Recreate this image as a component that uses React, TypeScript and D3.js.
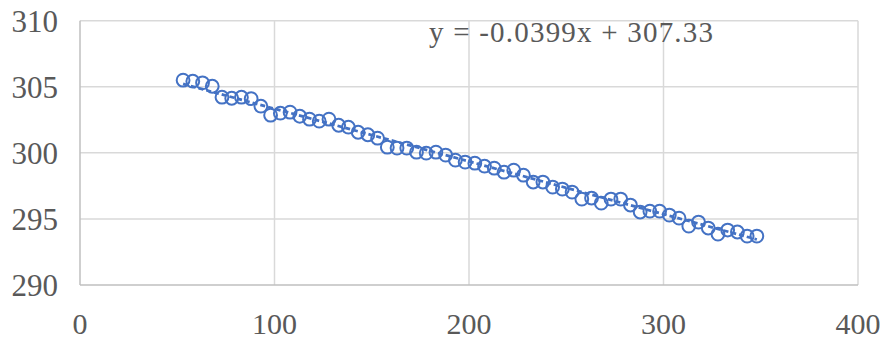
import React, { useEffect, useRef } from 'react';
import * as d3 from 'd3';

// x values run 53..348 in steps of 5
const xValues: number[] = [
  53, 58, 63, 68, 73, 78, 83, 88, 93, 98,
  103, 108, 113, 118, 123, 128, 133, 138, 143, 148,
  153, 158, 163, 168, 173, 178, 183, 188, 193, 198,
  203, 208, 213, 218, 223, 228, 233, 238, 243, 248,
  253, 258, 263, 268, 273, 278, 283, 288, 293, 298,
  303, 308, 313, 318, 323, 328, 333, 338, 343, 348,
];

const yValues: number[] = [
  305.5, 305.42, 305.3, 305.04, 304.21, 304.13, 304.21, 304.1, 303.53, 302.85,
  303.0, 303.08, 302.77, 302.55, 302.4, 302.55, 302.09, 301.94, 301.56, 301.37,
  301.11, 300.43, 300.36, 300.36, 300.05, 299.98, 300.05, 299.83, 299.45, 299.3,
  299.22, 298.99, 298.84, 298.54, 298.69, 298.31, 297.79, 297.79, 297.41, 297.26,
  297.03, 296.5, 296.58, 296.2, 296.5, 296.5, 296.05, 295.52, 295.59, 295.59,
  295.29, 295.06, 294.46, 294.76, 294.31, 293.85, 294.16, 294.01, 293.7, 293.7,
];

const xTicks: number[] = [0, 100, 200, 300, 400];
const yTicks: number[] = [290, 295, 300, 305, 310];

const trendSlope = -0.0399;
const trendIntercept = 307.33;
const trendLabel = 'y = -0.0399x + 307.33';

const width = 884;
const height = 341;
const margin = { top: 20.7, right: 26, bottom: 56, left: 80 };

const App: React.FC = () => {
  const svgRef = useRef<SVGSVGElement>(null);

  useEffect(() => {
    if (!svgRef.current) return;
    const svg = d3.select(svgRef.current);
    svg.selectAll('*').remove();

    const x = d3.scaleLinear().domain([0, 400]).range([margin.left, width - margin.right]);
    const y = d3.scaleLinear().domain([290, 310]).range([height - margin.bottom, margin.top]);

    const font = "'Liberation Serif', 'Times New Roman', serif";

    // gridlines
    svg.append('g')
      .selectAll('line')
      .data(yTicks.slice(1))
      .enter()
      .append('line')
      .attr('x1', x(0))
      .attr('x2', x(400))
      .attr('y1', d => y(d))
      .attr('y2', d => y(d))
      .attr('stroke', '#d9d9d9')
      .attr('stroke-width', 1.5);

    svg.append('g')
      .selectAll('line')
      .data(xTicks.slice(1))
      .enter()
      .append('line')
      .attr('x1', d => x(d))
      .attr('x2', d => x(d))
      .attr('y1', y(290))
      .attr('y2', y(310))
      .attr('stroke', '#d9d9d9')
      .attr('stroke-width', 1.5);

    // axis lines
    svg.append('line')
      .attr('x1', x(0)).attr('x2', x(0))
      .attr('y1', y(290)).attr('y2', y(310))
      .attr('stroke', '#bfbfbf').attr('stroke-width', 1.5);
    svg.append('line')
      .attr('x1', x(0)).attr('x2', x(400))
      .attr('y1', y(290)).attr('y2', y(290))
      .attr('stroke', '#bfbfbf').attr('stroke-width', 1.5);

    // tick labels
    svg.append('g')
      .selectAll('text')
      .data(yTicks)
      .enter()
      .append('text')
      .attr('x', 58)
      .attr('y', d => y(d) + 11)
      .attr('text-anchor', 'end')
      .attr('font-family', font)
      .attr('font-size', 31)
      .attr('fill', '#595959')
      .text(d => d);

    svg.append('g')
      .selectAll('text')
      .data(xTicks)
      .enter()
      .append('text')
      .attr('x', d => x(d))
      .attr('y', 334)
      .attr('text-anchor', 'middle')
      .attr('font-family', font)
      .attr('font-size', 30)
      .attr('fill', '#595959')
      .text(d => d);

    // markers
    const points = xValues.map((v, i) => [v, yValues[i]] as [number, number]);
    svg.append('g')
      .selectAll('circle')
      .data(points)
      .enter()
      .append('circle')
      .attr('cx', d => x(d[0]))
      .attr('cy', d => y(d[1]))
      .attr('r', 6.4)
      .attr('fill', 'none')
      .attr('stroke', '#4472c4')
      .attr('stroke-width', 2);

    // linear trendline over the data range
    const [x0, x1] = d3.extent(xValues) as [number, number];
    svg.append('line')
      .attr('x1', x(x0))
      .attr('y1', y(trendSlope * x0 + trendIntercept))
      .attr('x2', x(x1))
      .attr('y2', y(trendSlope * x1 + trendIntercept))
      .attr('stroke', '#4472c4')
      .attr('stroke-width', 2.75)
      .attr('stroke-dasharray', '5 3');

    svg.append('text')
      .attr('x', 429)
      .attr('y', 42)
      .attr('font-family', font)
      .attr('font-size', 29)
      .attr('fill', '#595959')
      .attr('textLength', 284)
      .text(trendLabel);
  }, []);

  return (
    <div style={{ position: 'absolute', left: 0, top: 0, background: '#fff' }}>
      <svg ref={svgRef} width={width} height={height} />
    </div>
  );
};

export default App;
